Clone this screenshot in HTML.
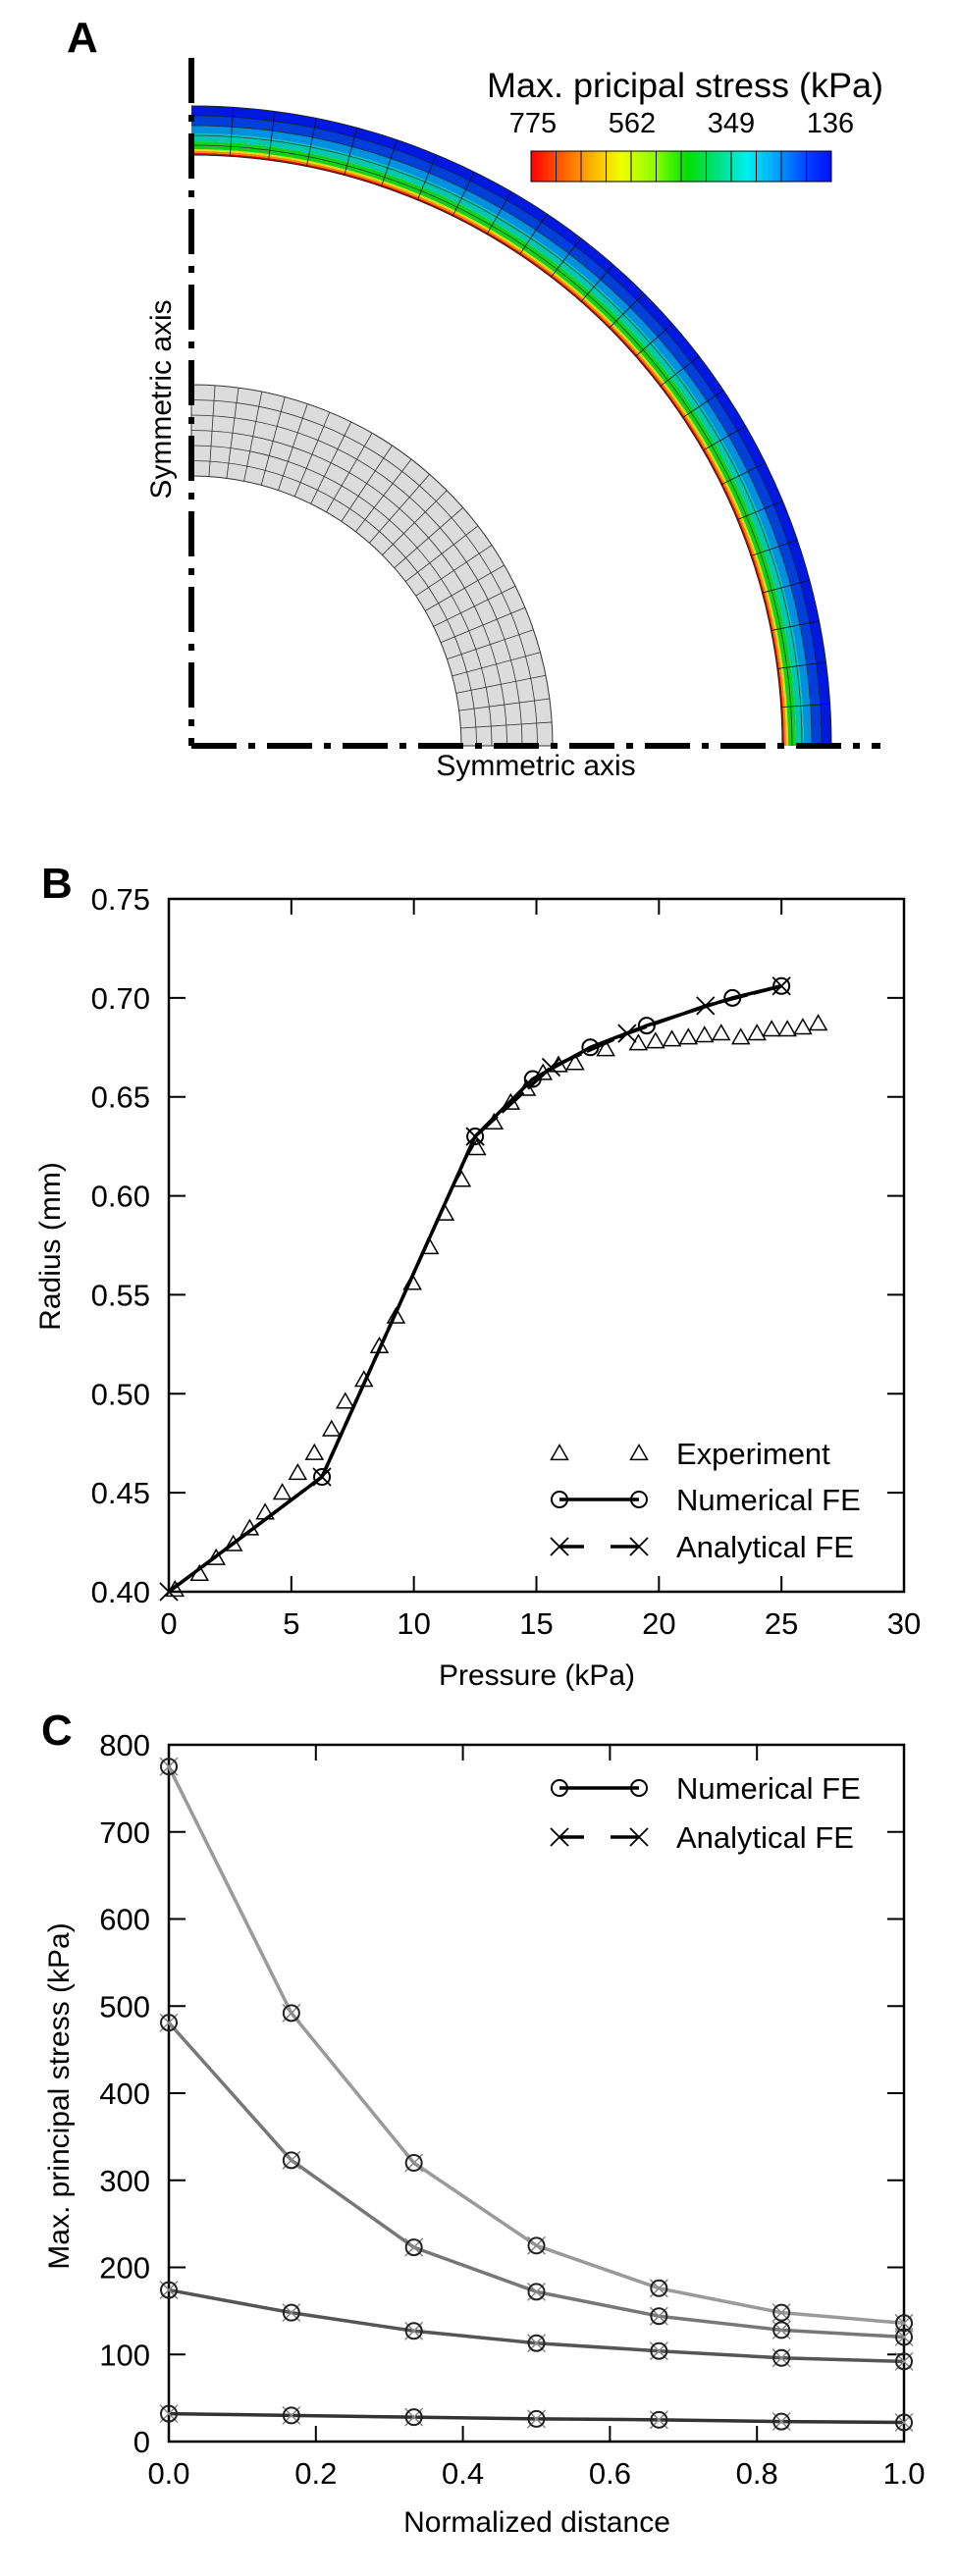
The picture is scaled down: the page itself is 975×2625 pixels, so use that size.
<!DOCTYPE html>
<html><head><meta charset="utf-8">
<style>
html,body{margin:0;padding:0;background:#fff;}
svg{display:block;font-family:"Liberation Sans",Arial,sans-serif;}
</style></head>
<body>
<svg id="fig" width="975" height="2625" viewBox="0 0 975 2625" xmlns="http://www.w3.org/2000/svg">
<defs>
<linearGradient id="cbar" x1="0" x2="1" y1="0" y2="0">
<stop offset="0" stop-color="#ff0000"/><stop offset="0.1" stop-color="#ff5a00"/><stop offset="0.2" stop-color="#ffb000"/>
<stop offset="0.3" stop-color="#f0ff00"/><stop offset="0.42" stop-color="#80ff00"/><stop offset="0.52" stop-color="#00e000"/>
<stop offset="0.62" stop-color="#00e080"/><stop offset="0.72" stop-color="#00f0f0"/><stop offset="0.82" stop-color="#00a0ff"/>
<stop offset="0.92" stop-color="#0040ff"/><stop offset="1" stop-color="#0010ff"/></linearGradient>
</defs>
<g id="panelA">
<text x="68" y="53" font-size="44" font-weight="bold">A</text>
<g id="meshA"></g>
<line x1="195" y1="59" x2="195" y2="760" stroke="#000" stroke-width="6" stroke-dasharray="46 12 7 12"/>
<line x1="195" y1="760" x2="897" y2="760" stroke="#000" stroke-width="6" stroke-dasharray="46 12 7 12"/>
<text x="546" y="782" font-size="30" text-anchor="middle" dominant-baseline="middle">Symmetric axis</text>
<text transform="translate(166,407) rotate(-90)" font-size="30" text-anchor="middle" dominant-baseline="middle">Symmetric axis</text>
<text x="496" y="99" font-size="35" textLength="404" lengthAdjust="spacingAndGlyphs">Max. pricipal stress (kPa)</text>
<rect x="541" y="154" width="306" height="31" fill="url(#cbar)" stroke="#000" stroke-width="1"/>
<g id="cbarLines"></g>
<g id="cbarLabels"></g>
</g>
<g id="panelB"></g>
<g id="panelC"></g>
</svg>
<script>
// ---- Panel B data ----
const expPressure = [0.25,1.25,1.93,2.63,3.3,3.93,4.63,5.26,5.94,6.64,7.2,7.96,8.59,9.27,9.94,10.64,11.27,11.95,12.57,13.27,13.95,14.6,15.27,15.9,16.58,17.83,19.16,19.86,20.53,21.2,21.86,22.54,23.34,24.0,24.6,25.24,25.87,26.5];
const expRadius = [0.401,0.409,0.417,0.424,0.432,0.440,0.450,0.460,0.470,0.482,0.496,0.507,0.524,0.539,0.556,0.574,0.591,0.608,0.624,0.637,0.647,0.654,0.662,0.666,0.667,0.674,0.677,0.678,0.679,0.680,0.681,0.682,0.680,0.682,0.684,0.684,0.685,0.687];
const numPressure = [0,6.25,12.5,14.85,17.2,19.5,23.0,25.0];
const numRadius = [0.400,0.458,0.630,0.659,0.675,0.686,0.700,0.706];
const anaPressure = [0,6.25,12.5,15.6,18.7,21.9,25.0];
const anaRadius = [0.400,0.458,0.630,0.665,0.682,0.696,0.706];
const bXTicks = [0,5,10,15,20,25,30];
const bYTicks = ["0.40","0.45","0.50","0.55","0.60","0.65","0.70","0.75"];
// ---- Panel C data ----
const cDistance = [0,1/6,2/6,3/6,4/6,5/6,1];
const cSeries1 = [775,492,320,225,176,148,136];
const cSeries2 = [481,323,223,172,144,128,120];
const cSeries3 = [174,148,127,113,104,96,92];
const cSeries4 = [32,30,28,26,25,23,22];
const cXTicks = ["0.0","0.2","0.4","0.6","0.8","1.0"];
const cYTicks = [0,100,200,300,400,500,600,700,800];
// ---- Colorbar labels ----
const cbarValues = ["775","562","349","136"];

const NS="http://www.w3.org/2000/svg";
function mk(tag, attrs, parent){const e=document.createElementNS(NS,tag);for(const k in attrs)e.setAttribute(k,attrs[k]);parent.appendChild(e);return e;}

(function(){
const g=document.getElementById('meshA');
const cx=195, cy=760;
function ann(r,R){return `M${cx},${cy-R} A${R},${R} 0 0 1 ${cx+R},${cy} L${cx+r},${cy} A${r},${r} 0 0 0 ${cx},${cy-r} Z`;}
function arc(R){return `M${cx},${cy-R} A${R},${R} 0 0 1 ${cx+R},${cy}`;}
let p=mk('path',{d:ann(275,368),fill:'#dcdcdc',stroke:'#333','stroke-width':1},g);


for(let i=1;i<6;i++){const r=275+i*(93/6);const a=mk('path',{d:arc(r),fill:'none',stroke:'#333','stroke-width':0.8},g);

}
for(let i=1;i<24;i++){const t=i*Math.PI/2/24;const l=mk('line',{x1:cx+275*Math.sin(t),y1:cy-275*Math.cos(t),x2:cx+368*Math.sin(t),y2:cy-368*Math.cos(t),stroke:'#333','stroke-width':0.8},g);

}
const bands=[[602,604,'#e00000'],[604,606,'#ff8000'],[606,608,'#e0e000'],[608,616,'#10d020'],[616,624,'#00c8b0'],[624,632,'#0090e0'],[632,642,'#0040d8'],[642,652,'#0018e0']];
bands.forEach(b=>{const q=mk('path',{d:ann(b[0],b[1]),fill:b[2],stroke:'none'},g);

});
[612,622,632,642].forEach(r=>{const a=mk('path',{d:arc(r),fill:'none',stroke:'#111','stroke-width':0.8,opacity:0.7},g);

});
[602,652].forEach(r=>{const a=mk('path',{d:arc(r),fill:'none',stroke:'#222','stroke-width':1},g);

});
for(let i=1;i<24;i++){const t=i*Math.PI/2/24;const l=mk('line',{x1:cx+602*Math.sin(t),y1:cy-602*Math.cos(t),x2:cx+652*Math.sin(t),y2:cy-652*Math.cos(t),stroke:'#111','stroke-width':0.8},g);

}
const lg=document.getElementById('cbarLines');
for(let i=1;i<12;i++){const x=541+i*306/12;const l=mk('line',{x1:x,y1:154,x2:x,y2:185,stroke:'#000','stroke-width':1},lg);

}
const tg=document.getElementById('cbarLabels');
cbarValues.forEach((v,i)=>{const t=mk('text',{x:543+i*101,y:135,'font-size':29,'text-anchor':'middle'},tg);t.textContent=v;

});
})();

function tri(g,x,y){const s=8.5;const p=mk('path',{d:`M${x},${y-s} L${x+s},${y+s*0.75} L${x-s},${y+s*0.75} Z`,fill:'none',stroke:'#000','stroke-width':1.5},g);return p;}
function circ(g,x,y,col){return mk('circle',{cx:x,cy:y,r:8,fill:'none',stroke:col||'#000','stroke-width':2},g);}
function cross(g,x,y,col,w){const s=9;return mk('path',{d:`M${x-s},${y-s} L${x+s},${y+s} M${x-s},${y+s} L${x+s},${y-s}`,stroke:col||'#000','stroke-width':w||1.8,fill:'none'},g);}

function axesFrame(g,L,R,T,B,xt,yt,xs,ys,nameP){
const f=mk('rect',{x:L,y:T,width:R-L,height:B-T,fill:'none',stroke:'#000','stroke-width':2.5},g);


xt.forEach(v=>{const x=xs(+v);
const tk=mk('line',{x1:x,y1:T,x2:x,y2:T+16,stroke:'#000','stroke-width':2},g);


const tb=mk('line',{x1:x,y1:B-16,x2:x,y2:B,stroke:'#000','stroke-width':2},g);


const t=mk('text',{x:x,y:B+43,'font-size':31,'text-anchor':'middle'},g);t.textContent=v;

});
yt.forEach(v=>{const y=ys(+v);
const tk=mk('line',{x1:R-17,y1:y,x2:R,y2:y,stroke:'#000','stroke-width':2},g);


const tl=mk('line',{x1:L,y1:y,x2:L+17,y2:y,stroke:'#000','stroke-width':2},g);


const t=mk('text',{x:153,y:y+11,'font-size':31,'text-anchor':'end'},g);t.textContent=v;

});
}
function poly(g,xsArr,ysArr,xs,ys,col,w,dash){const d=xsArr.map((v,i)=>(i?'L':'M')+xs(v)+','+ys(ysArr[i])).join(' ');
const a={d:d,fill:'none',stroke:col,'stroke-width':w,'stroke-linejoin':'round'};if(dash)a['stroke-dasharray']=dash;return mk('path',a,g);}

(function(){
const g=document.getElementById('panelB');
const L=172,R=921,T=916,B=1622;
const xs=v=>L+v/30*(R-L), ys=v=>B-(v-0.40)/0.35*(B-T);
let t=mk('text',{x:42,y:915,'font-size':44,'font-weight':'bold'},g);t.textContent='B';


axesFrame(g,L,R,T,B,bXTicks.map(String),bYTicks,xs,ys,'b');
t=mk('text',{x:547,y:1717,'font-size':30,'text-anchor':'middle'},g);t.textContent='Pressure (kPa)';


t=mk('text',{transform:'translate(61,1270) rotate(-90)','font-size':30,'text-anchor':'middle'},g);t.textContent='Radius (mm)';


expPressure.forEach((p,i)=>{const m=tri(g,xs(p),ys(expRadius[i]));

});
let ln=poly(g,numPressure,numRadius,xs,ys,'#000',3.5);


ln=poly(g,anaPressure,anaRadius,xs,ys,'#000',3.5,'30 6');


numPressure.forEach((p,i)=>{if(i===0)return;const m=circ(g,xs(p),ys(numRadius[i]));

});
anaPressure.forEach((p,i)=>{const m=cross(g,xs(p),ys(anaRadius[i]));

});
const lg=mk('g',{},g);


const rows=[1481,1528,1576];
tri(lg,570,rows[0]);tri(lg,651,rows[0]);
mk('line',{x1:570,y1:rows[1],x2:651,y2:rows[1],stroke:'#000','stroke-width':3.5},lg);circ(lg,570,rows[1]);circ(lg,651,rows[1]);
mk('line',{x1:570,y1:rows[2],x2:595,y2:rows[2],stroke:'#000','stroke-width':3.5},lg);
mk('line',{x1:622,y1:rows[2],x2:651,y2:rows[2],stroke:'#000','stroke-width':3.5},lg);cross(lg,570,rows[2]);cross(lg,651,rows[2]);
['Experiment','Numerical FE','Analytical FE'].forEach((s,i)=>{const tx=mk('text',{x:689,y:rows[i]+11,'font-size':31},lg);tx.textContent=s;

});
})();

(function(){
const g=document.getElementById('panelC');
const L=172,R=921,T=1778,B=2488;
const xs=v=>L+v*(R-L), ys=v=>B-v/800*(B-T);
let t=mk('text',{x:42,y:1778,'font-size':44,'font-weight':'bold'},g);t.textContent='C';


axesFrame(g,L,R,T,B,cXTicks,cYTicks.map(String),xs,ys,'c');
t=mk('text',{x:547,y:2580,'font-size':30,'text-anchor':'middle'},g);t.textContent='Normalized distance';


t=mk('text',{transform:'translate(70,2136) rotate(-90)','font-size':30,'text-anchor':'middle'},g);t.textContent='Max. principal stress (kPa)';


const series=[[cSeries1,'#9a9a9a'],[cSeries2,'#777777'],[cSeries3,'#555555'],[cSeries4,'#333333']];
series.forEach((s,k)=>{
const ln=poly(g,cDistance,s[0],xs,ys,s[1],3.5);


cDistance.forEach((d,i)=>{
const c=cross(g,xs(d),ys(s[0][i]),'#888',1.5);


const m=circ(g,xs(d),ys(s[0][i]),'#222');

});
});
const lg=mk('g',{},g);


const rows=[1822,1872];
mk('line',{x1:570,y1:rows[0],x2:651,y2:rows[0],stroke:'#000','stroke-width':3.5},lg);circ(lg,570,rows[0]);circ(lg,651,rows[0]);
mk('line',{x1:570,y1:rows[1],x2:595,y2:rows[1],stroke:'#000','stroke-width':3.5},lg);
mk('line',{x1:622,y1:rows[1],x2:651,y2:rows[1],stroke:'#000','stroke-width':3.5},lg);cross(lg,570,rows[1]);cross(lg,651,rows[1]);
['Numerical FE','Analytical FE'].forEach((s,i)=>{const tx=mk('text',{x:689,y:rows[i]+11,'font-size':31},lg);tx.textContent=s;

});
})();
</script>
</body></html>
